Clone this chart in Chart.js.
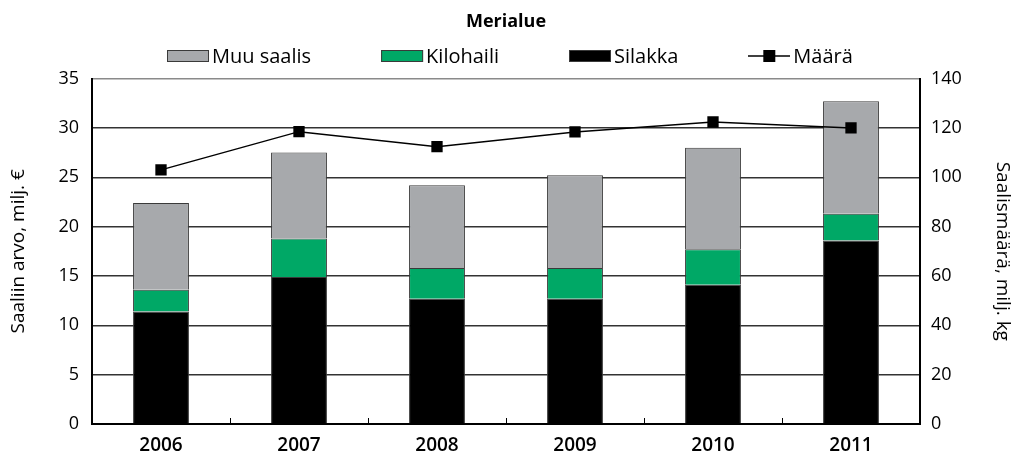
<!DOCTYPE html>
<html>
<head>
<meta charset="utf-8">
<script src="https://cdn.jsdelivr.net/npm/chart.js@4"></script>
<style>
  html, body { margin: 0; padding: 0; background: #fff; }
  #wrap { width: 1028px; height: 464px; }
</style>
</head>
<body>
<div id="wrap"><canvas id="myChart" width="1028" height="464"></canvas></div>
<script>
// arvot luettu kuvasta
const years = ['2006', '2007', '2008', '2009', '2010', '2011'];
const silakka = [11.4, 14.9, 12.7, 12.7, 14.1, 18.6];
const kilohaili = [2.2, 3.9, 3.1, 3.1, 3.6, 2.7];
const muuSaalis = [8.8, 8.7, 8.4, 9.4, 10.3, 11.4];
const maara = [103, 118.5, 112.4, 118.4, 122.4, 120];
const leftTicks = [0, 5, 10, 15, 20, 25, 30, 35];
const rightTicks = [0, 20, 40, 60, 80, 100, 120, 140];
const legendOrder = ['Muu saalis', 'Kilohaili', 'Silakka', 'Määrä'];

const FONT = "'Open Sans', 'Noto Sans', sans-serif";

// legendan kuvake viivalle: viiva + neliö
const lineIcon = document.createElement('canvas');
lineIcon.width = 42;
lineIcon.height = 12;
const ic = lineIcon.getContext('2d');
ic.strokeStyle = '#000';
ic.lineWidth = 1.5;
ic.beginPath();
ic.moveTo(0, 6);
ic.lineTo(42, 6);
ic.stroke();
ic.fillStyle = '#000';
ic.fillRect(15, 0, 12, 12);

// legenda piirretään itse, jotta välit saa samanlaisiksi kuin mallissa
const customLegend = {
    id: 'customLegend',
    afterDraw(chart) {
        const c = chart.ctx;
        const boxW = 42, gapText = 3, gapItem = 70, cy = 56;
        c.save();
        c.font = '20px ' + FONT;
        const items = legendOrder.map(name => chart.data.datasets.find(d => d.label === name));
        const widths = items.map(d => boxW + gapText + c.measureText(d.label).width);
        const total = widths.reduce((a, b) => a + b, 0) + gapItem * (items.length - 1);
        let x = Math.round((chart.width - total) / 2 - 4);
        items.forEach((d, i) => {
            if (d.type === 'line') {
                c.drawImage(lineIcon, x, cy - 6);
            } else {
                c.fillStyle = d.backgroundColor;
                c.fillRect(x, cy - 6, boxW, 12);
                c.strokeStyle = '#3a3a3a';
                c.lineWidth = 1;
                c.strokeRect(x + 0.5, cy - 5.5, boxW - 1, 11);
            }
            c.fillStyle = '#000';
            c.textBaseline = 'middle';
            c.textAlign = 'left';
            c.fillText(d.label, x + boxW + gapText, cy + 1);
            x += widths[i] + gapItem;
        });
        c.restore();
    }
};

// pienet tikit x-akselilta ylöspäin
const innerTicks = {
    id: 'innerTicks',
    afterDraw(chart) {
        const x = chart.scales.x;
        const ctx = chart.ctx;
        const step = x.width / years.length;
        ctx.save();
        ctx.strokeStyle = '#000';
        ctx.lineWidth = 1;
        for (let i = 1; i < years.length; i++) {
            const px = Math.round(x.left + step * i) + 0.5;
            ctx.beginPath();
            ctx.moveTo(px, x.top);
            ctx.lineTo(px, x.top - 6);
            ctx.stroke();
        }
        ctx.restore();
    }
};

const ctx = document.getElementById('myChart');
new Chart(ctx, {
    type: 'bar',
    data: {
        labels: years,
        datasets: [
            { label: 'Silakka', data: silakka, backgroundColor: '#000000', borderColor: '#3a3a3a', borderWidth: 1, yAxisID: 'y', order: 1 },
            { label: 'Kilohaili', data: kilohaili, backgroundColor: '#00a866', borderColor: '#3a3a3a', borderWidth: 1, yAxisID: 'y', order: 1 },
            { label: 'Muu saalis', data: muuSaalis, backgroundColor: '#a7a9ac', borderColor: '#3a3a3a', borderWidth: 1, yAxisID: 'y', order: 1 },
            {
                label: 'Määrä', type: 'line', data: maara, yAxisID: 'y1', order: 0,
                borderColor: '#000', borderWidth: 1.5, backgroundColor: '#000',
                pointStyle: 'rect', pointRadius: 8, pointBackgroundColor: '#000', pointBorderWidth: 0,
                tension: 0
            }
        ]
    },
    options: {
        responsive: false,
        animation: false,
        devicePixelRatio: 1,
        layout: { padding: 0 },
        datasets: { bar: { barPercentage: 0.405, categoryPercentage: 1 } },
        plugins: {
            tooltip: { enabled: false },
            legend: { display: false },
            title: {
                display: true,
                fullSize: false,
                text: 'Merialue',
                color: '#000',
                font: { family: FONT, size: 18, weight: 'bold' },
                padding: { top: 11, bottom: 46 }
            }
        },
        scales: {
            x: {
                stacked: true,
                grid: { display: false, drawTicks: false },
                border: { color: '#000', width: 2 },
                ticks: { color: '#000', font: { family: FONT, size: 19, weight: '600' }, padding: 10 },
                afterFit(scale) { scale.height = 40; }
            },
            y: {
                stacked: true,
                position: 'left',
                min: 0, max: 35,
                afterBuildTicks(scale) { scale.ticks = leftTicks.map(v => ({ value: v })); },
                ticks: { color: '#000', font: { family: FONT, size: 18 }, padding: 13 },
                grid: {
                    color: ctx => ctx.tick && ctx.tick.value === 35 ? '#8a8a8a' : '#333',
                    lineWidth: 1.5,
                    drawTicks: false
                },
                border: { color: '#000', width: 2 },
                title: {
                    display: true,
                    text: 'Saaliin arvo, milj. €',
                    color: '#000',
                    font: { family: FONT, size: 19 },
                    padding: { top: 7, bottom: 0 }
                },
                afterFit(scale) { scale.width = 92; }
            },
            y1: {
                position: 'right',
                min: 0, max: 140,
                afterBuildTicks(scale) { scale.ticks = rightTicks.map(v => ({ value: v })); },
                ticks: { color: '#000', font: { family: FONT, size: 18 }, padding: 11 },
                grid: { drawOnChartArea: false, drawTicks: false },
                border: { color: '#000', width: 2 },
                title: {
                    display: true,
                    text: 'Saalismäärä, milj. kg',
                    color: '#000',
                    font: { family: FONT, size: 19 },
                    padding: { top: 14, bottom: 0 }
                },
                afterFit(scale) { scale.width = 108; }
            }
        }
    },
    plugins: [innerTicks, customLegend]
});
</script>
</body>
</html>
